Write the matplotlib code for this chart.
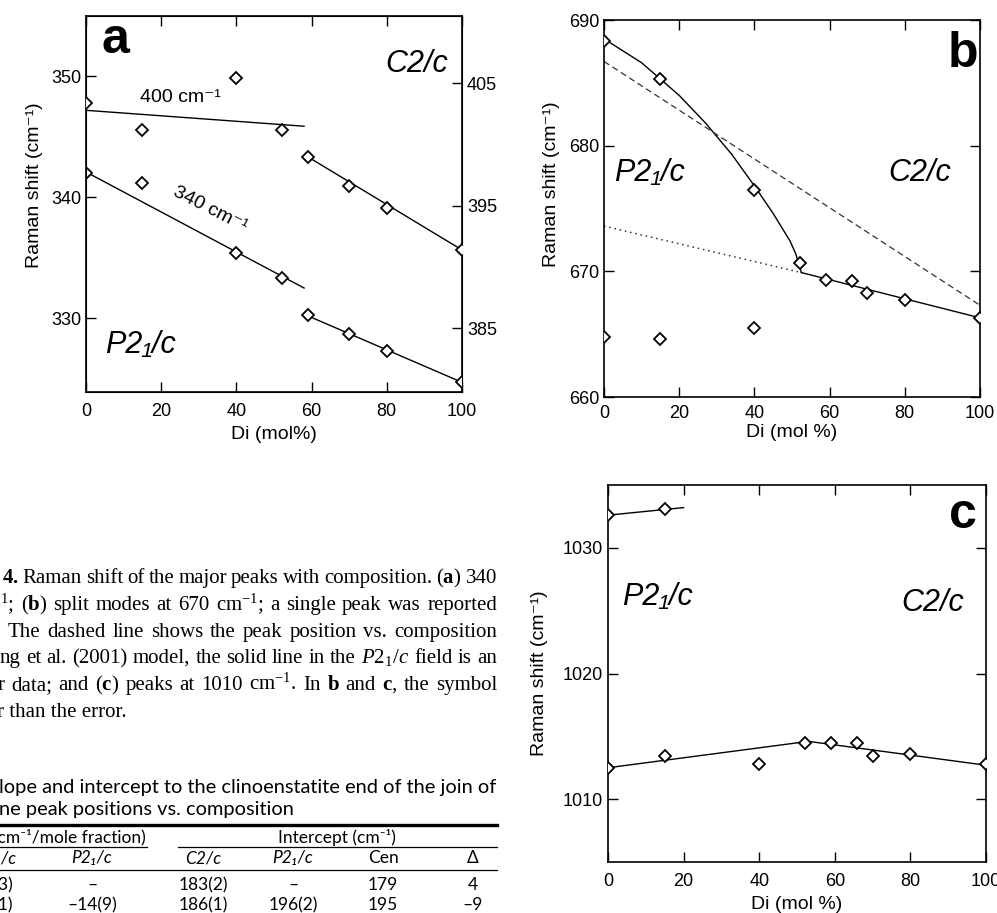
import numpy as np
import matplotlib.pyplot as plt
from matplotlib.lines import Line2D

plt.rcParams['font.family'] = ['Liberation Sans', 'DejaVu Sans']
plt.rcParams['mathtext.fontset'] = 'custom'
plt.rcParams['mathtext.rm'] = 'Liberation Serif'
plt.rcParams['mathtext.it'] = 'Liberation Serif:italic'
plt.rcParams['mathtext.bf'] = 'Liberation Serif:bold'

# --- panel a : 340 and 400 cm-1 peaks ---
di_a = [0, 15, 40, 52, 59, 70, 80, 100]
peak340 = [342.0, 341.2, 335.4, 333.3, 330.3, 328.7, 327.3, 324.7]
peak400 = [403.4, 401.2, 405.4, 401.2, 399.0, 396.6, 394.8, 391.4]
fit340_p21_x, fit340_p21_y = [0, 58], [342.1, 332.5]
fit340_c2_x, fit340_c2_y = [59, 100], [330.2, 324.7]
fit400_p21_x, fit400_p21_y = [0, 58], [402.8, 401.5]
fit400_c2_x, fit400_c2_y = [59, 100], [399.0, 391.4]

# --- panel b : split modes at 670 cm-1 ---
di_b = [0, 15, 40, 52, 59, 66, 70, 80, 100]
peak670 = [688.3, 685.3, 676.5, 670.7, 669.3, 669.2, 668.3, 667.7, 666.3]
di_b_low = [0, 15, 40]
peak670_low = [664.8, 664.6, 665.5]
curve_x = [0, 10, 20, 27, 34, 40, 45, 49.5, 51, 52.5]
curve_y = [688.5, 686.6, 684.0, 681.8, 679.3, 676.8, 674.6, 672.4, 671.4, 669.9]
c2_b_x, c2_b_y = [52.5, 100], [669.9, 666.3]
model_x, model_y = [0, 100], [686.7, 667.3]
extrap_x, extrap_y = [0, 52.5], [673.6, 669.9]

# --- panel c : peaks at 1010 cm-1 ---
di_c_up = [0, 15]
peak1030 = [1032.6, 1033.1]
fit1030_x, fit1030_y = [0, 20], [1032.6, 1033.2]
di_c = [0, 15, 40, 52, 59, 66, 70, 80, 100]
peak1010 = [1012.5, 1013.4, 1012.8, 1014.5, 1014.5, 1014.5, 1013.4, 1013.6, 1012.8]
fit1010_x, fit1010_y = [0, 53, 100], [1012.5, 1014.6, 1012.7]

W, H = 997, 913
fig = plt.figure(figsize=(W / 100, H / 100), dpi=100)

def fx(x):
    return x / W

def fy(y):
    return 1 - y / H

mk = dict(marker='D', markersize=6, mfc='white', mec='black', mew=1.3, ls='none', zorder=3)
tick_kw = dict(direction='in', length=7, width=1, labelsize=13, top=True, right=True)
ylab = 'Raman shift (cm⁻¹)'

def style(ax):
    for s in ax.spines.values():
        s.set_linewidth(1.2)
    ax.set_xlim(0, 100)
    ax.set_xticks([0, 20, 40, 60, 80, 100])
    ax.tick_params(**tick_kw)

# panel a
ax = fig.add_axes([fx(86), fy(392), 376 / W, 376 / H])
style(ax)
ax.tick_params(axis='x', pad=8)
ax.set_ylim(323.9, 355.0)
ax.set_yticks([330, 340, 350])
ax.plot(fit340_p21_x, fit340_p21_y, color='black', lw=1)
ax.plot(fit340_c2_x, fit340_c2_y, color='black', lw=1)
ax.plot(di_a, peak340, **mk)
ax.set_xlabel('Di (mol%)', fontsize=14, labelpad=4)
ax.set_ylabel(ylab, fontsize=14)
ax.yaxis.set_label_coords(-0.115, 0.55)
ax2 = ax.twinx()
ax2.set_ylim(379.8, 410.5)
ax2.set_yticks([385, 395, 405])
ax2.tick_params(axis='y', direction='in', length=7, width=1, labelsize=13)
ax2.plot(fit400_p21_x, fit400_p21_y, color='black', lw=1)
ax2.plot(fit400_c2_x, fit400_c2_y, color='black', lw=1)
ax2.plot(di_a, peak400, **mk)
ax.text(4, 353.0, 'a', fontsize=36, fontweight='bold', ha='left', va='center')
ax.text(25, 348.3, '400 cm⁻¹', fontsize=14, ha='center', va='center')
ax.text(33, 339.0, '340 cm⁻¹', fontsize=14, ha='center', va='center', rotation=-27)
ax.text(88, 351.0, 'C2/c', fontsize=22, style='italic', ha='center', va='center')
ax.text(14.5, 327.8, 'P2₁/c', fontsize=22, style='italic', ha='center', va='center')

# panel b
bx = fig.add_axes([fx(604), fy(397), 376 / W, 377 / H])
style(bx)
bx.tick_params(axis='x', pad=6)
bx.set_ylim(660, 690)
bx.set_yticks([660, 670, 680, 690])
bx.plot(curve_x, curve_y, color='black', lw=1)
bx.plot(c2_b_x, c2_b_y, color='black', lw=1)
bx.plot(model_x, model_y, color='#333333', lw=0.9, ls=(0, (5, 3)))
bx.plot(extrap_x, extrap_y, color='#333333', lw=1.1, ls=(0, (1, 2.5)))
bx.plot(di_b, peak670, **mk)
bx.plot(di_b_low, peak670_low, **mk)
bx.set_xlabel('Di (mol %)', fontsize=14, labelpad=1)
bx.set_ylabel(ylab, fontsize=14)
bx.yaxis.set_label_coords(-0.116, 0.565)
bx.text(95.5, 687.3, 'b', fontsize=36, fontweight='bold', ha='center', va='center')
bx.text(12, 677.8, 'P2₁/c', fontsize=22, style='italic', ha='center', va='center')
bx.text(84, 677.8, 'C2/c', fontsize=22, style='italic', ha='center', va='center')

# panel c
cx = fig.add_axes([fx(608), fy(862), 378 / W, 377 / H])
style(cx)
cx.tick_params(axis='x', pad=8)
cx.set_ylim(1005, 1035)
cx.set_yticks([1010, 1020, 1030])
cx.plot(fit1030_x, fit1030_y, color='black', lw=1)
cx.plot(fit1010_x, fit1010_y, color='black', lw=1)
cx.plot(di_c_up, peak1030, **mk)
cx.plot(di_c, peak1010, **mk)
cx.set_xlabel('Di (mol %)', fontsize=14, labelpad=4)
cx.set_ylabel(ylab, fontsize=14)
cx.yaxis.set_label_coords(-0.158, 0.5)
cx.text(94, 1032.6, 'c', fontsize=36, fontweight='bold', ha='center', va='center')
cx.text(13, 1026.1, 'P2₁/c', fontsize=22, style='italic', ha='center', va='center')
cx.text(86, 1025.6, 'C2/c', fontsize=22, style='italic', ha='center', va='center')

# caption, justified word by word between the left start and the right margin
cap = dict(fontsize=15, family='Liberation Serif', va='baseline')
caption = [
    r'$\mathbf{4.}$ Raman shift of the major peaks with composition. ($\mathbf{a}$) 340',
    r'$^{1}$; ($\mathbf{b}$) split modes at 670 cm$^{-1}$; a single peak was reported',
    r'The dashed line shows the peak position vs. composition',
    r'ng et al. (2001) model, the solid line in the $\mathit{P2_1/c}$ field is an',
    r'r data; and ($\mathbf{c}$) peaks at 1010 cm$^{-1}$. In $\mathbf{b}$ and $\mathbf{c}$, the symbol',
]
cap_x0 = [2, 0, 8, 0, -2]
cap_base = [583, 610, 637, 663, 690]
renderer = fig.canvas.get_renderer()
for line, x0, y in zip(caption, cap_x0, cap_base):
    words = [fig.text(0, fy(y), w, ha='left', **cap) for w in line.split(' ')]
    widths = [t.get_window_extent(renderer).width for t in words]
    gap = (497 - x0 - sum(widths)) / (len(words) - 1)
    x = x0
    for t, w in zip(words, widths):
        t.set_x(fx(x))
        x += w + gap
fig.text(fx(-3), fy(717), 'r than the error.', ha='left', **cap)

# table fragment
tf = ['Lato', 'DejaVu Sans']
fig.text(fx(496), fy(787), 'lope and intercept to the clinoenstatite end of the join of',
         fontsize=14.4, family=tf, ha='right', va='center')
fig.text(fx(-1), fy(809), 'ne peak positions vs. composition',
         fontsize=14.4, family=tf, ha='left', va='center')
for x0, x1, y, lw in [(0, 497, 825, 2.4), (0, 147, 847, 0.9), (178, 497, 847, 0.9), (0, 497, 870, 0.9)]:
    fig.add_artist(Line2D([fx(x0), fx(x1)], [fy(y), fy(y)], transform=fig.transFigure,
                          color='black', lw=lw))
fig.text(fx(146), fy(837), 'Slope (cm⁻¹/mole fraction)', fontsize=12.5, family=tf, ha='right', va='center')
fig.text(fx(337), fy(837), 'Intercept (cm⁻¹)', fontsize=12.5, family=tf, ha='center', va='center')

col_x = [3, 92, 203, 293, 383, 473]
header = ['C2/c', 'P2₁/c', 'C2/c', 'P2₁/c', 'Cen', 'Δ']
rows = [['–17(3)', '–', '183(2)', '–', '179', '4'],
        ['–10(1)', '–14(9)', '186(1)', '196(2)', '195', '–9']]
for i, (x, h) in enumerate(zip(col_x, header)):
    ital = 'italic' if '/c' in h else 'normal'
    if i == 0:
        fig.text(fx(16), fy(858), h, fontsize=12.5, family=tf, style=ital, ha='right', va='center')
    else:
        fig.text(fx(x), fy(858), h, fontsize=12.5, family=tf, style=ital, ha='center', va='center')
for row, y in zip(rows, [885, 905]):
    for i, (x, v) in enumerate(zip(col_x, row)):
        if i == 0:
            fig.text(fx(13), fy(y), v, fontsize=12.5, family=tf, ha='right', va='center')
        else:
            fig.text(fx(x), fy(y), v, fontsize=12.5, family=tf, ha='center', va='center')

fig.savefig('out.png', dpi=100)
